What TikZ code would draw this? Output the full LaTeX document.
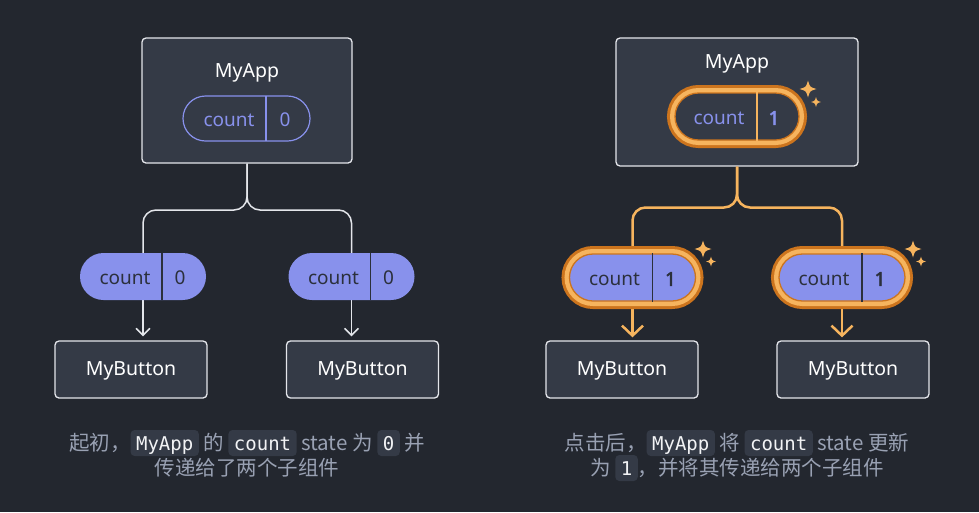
\documentclass[tikz,border=0pt]{standalone}
\usepackage{fontspec}
\setmainfont{Noto Sans}
\newfontfamily\cjk{Noto Sans CJK SC}
\newfontfamily\codefont{DejaVu Sans Mono}
\newfontfamily\numfont[FakeBold=2.5]{Noto Sans}
\usetikzlibrary{arrows.meta}

\definecolor{bgdark}{HTML}{23272F}
\definecolor{boxfill}{HTML}{343A46}
\definecolor{boxline}{HTML}{E4E6EB}
\definecolor{lavender}{HTML}{8891EC}
\definecolor{pilltext}{HTML}{2B303C}
\definecolor{ringlight}{HTML}{F6B45E}
\definecolor{ringdark}{HTML}{CC741D}
\definecolor{capgray}{HTML}{99A1B3}
\definecolor{codebg}{HTML}{343A46}
\definecolor{codetext}{HTML}{F2F3F5}

\tikzset{
  codebox/.style={fill=codebg, rounded corners=4pt, text=codetext, inner xsep=5.5pt, inner ysep=3pt,
    text height=17pt, text depth=3pt, font=\codefont\fontsize{19}{20}\selectfont},
  sparkle/.pic={\fill[ringlight] (0,-1) .. controls (0.22,-0.22) .. (1,0) .. controls (0.22,0.22) .. (0,1)
    .. controls (-0.22,0.22) .. (-1,0) .. controls (-0.22,-0.22) .. (0,-1);}
}
\newcommand{\codebit}[1]{\tikz[baseline=(cb.base)]\node[codebox](cb){#1};}

\begin{document}
\begin{tikzpicture}[x=1pt, y=-1pt,
  comp/.style={draw=boxline, fill=boxfill, line width=1.3pt, rounded corners=4pt, inner sep=0pt},
  title/.style={text=white, font=\fontsize{19.5}{22}\selectfont},
  pill/.style={rectangle, rounded corners=23.5pt, minimum width=126pt, minimum height=47pt, inner sep=0pt},
  cnt/.style={font=\fontsize{19}{22}\selectfont},
  num/.style={font=\numfont\fontsize{19}{22}\selectfont},
  wire/.style={draw=boxline, line width=1.5pt, rounded corners=13pt},
  hotwire/.style={draw=ringlight, line width=2.5pt, rounded corners=13pt},
  ring/.style={draw=ringdark, line width=1.3pt, preaction={draw=ringdark, line width=16pt},
    preaction={draw=ringlight, line width=10pt}},
  caption/.style={text=capgray, font=\cjk\fontsize{20.5}{24}\selectfont, inner sep=0pt}]

\path[use as bounding box, fill=bgdark] (0,0) rectangle (979,512);

% before the click
\node[comp, minimum width=210pt, minimum height=125pt] (appL) at (247,100.5) {};
\node[title] (appLt) at (247,72.5) {MyApp};
\coordinate (forkL) at (247,210);
\coordinate (forkR) at (737,207.5);

\node[comp, minimum width=152pt, minimum height=57pt] (btnLa) at (131,369.5) {};
\node[title] (btnLat) at ([yshift=-1.5pt]btnLa.center) {MyButton};
\node[comp, minimum width=152pt, minimum height=57pt] (btnLb) at (362.5,369.5) {};
\node[title] (btnLbt) at ([yshift=-1.5pt]btnLb.center) {MyButton};

\node[pill, minimum width=127pt, minimum height=45pt, rounded corners=22.5pt] (cntL) at (246.5,118.5) {};
\node[pill] (cntLa) at (143,276.5) {};
\node[pill] (cntLb) at (351.5,276.5) {};

\draw[wire] (appL.south) -- (forkL) -| (cntLa.north);
\draw[wire] (appL.south) -- (forkL) -| (cntLb.north);
\draw[wire, -{Straight Barb[length=7pt, width=14pt]}, shorten >=4pt] (cntLa.south) -- (cntLa.south |- btnLa.north);
\draw[wire, -{Straight Barb[length=7pt, width=14pt]}, shorten >=4pt] (cntLb.south) -- (cntLb.south |- btnLb.north);

\node[pill, draw=lavender, line width=1.2pt, minimum width=127pt, minimum height=45pt, rounded corners=22.5pt] at (cntL) {};
\draw[lavender, line width=1.2pt] ([xshift=19.5pt]cntL.north) -- ([xshift=19.5pt]cntL.south);
\node[cnt, text=lavender] (cntLt) at ([xshift=-17.5pt, yshift=-1.5pt]cntL.center) {count};
\node[cnt, text=lavender] (cntLv) at ([xshift=38.5pt, yshift=-1.5pt]cntL.center) {0};

\node[pill, fill=lavender] at (cntLa) {};
\draw[pilltext, line width=1.2pt] ([xshift=19pt]cntLa.north) -- ([xshift=19pt]cntLa.south);
\node[cnt, text=pilltext] (cntLat) at ([xshift=-18pt, yshift=-1.5pt]cntLa.center) {count};
\node[cnt, text=pilltext] (cntLav) at ([xshift=37pt, yshift=-1.5pt]cntLa.center) {0};

\node[pill, fill=lavender] at (cntLb) {};
\draw[pilltext, line width=1.2pt] ([xshift=19pt]cntLb.north) -- ([xshift=19pt]cntLb.south);
\node[cnt, text=pilltext] (cntLbt) at ([xshift=-18pt, yshift=-1.5pt]cntLb.center) {count};
\node[cnt, text=pilltext] (cntLbv) at ([xshift=37pt, yshift=-1.5pt]cntLb.center) {0};

\node[caption] (capLa) at (247,443) {起初，\codebit{MyApp} 的 \codebit{count} state 为 \codebit{0} 并};
\node[caption] (capLb) at (247,468) {传递给了两个子组件};

% after the click
\node[comp, minimum width=242pt, minimum height=128pt] (appR) at (737,102) {};
\node[title] (appRt) at (737,63.5) {MyApp};

\node[comp, minimum width=152pt, minimum height=57pt] (btnRa) at (622,369.5) {};
\node[title] (btnRat) at ([yshift=-1.5pt]btnRa.center) {MyButton};
\node[comp, minimum width=152pt, minimum height=57pt] (btnRb) at (853,369.5) {};
\node[title] (btnRbt) at ([yshift=-1.5pt]btnRb.center) {MyButton};

\coordinate (cntRa) at (632.5,277.5);
\coordinate (cntRb) at (842,277.5);
\draw[hotwire] (appR.south) -- (forkR) -| (cntRa);
\draw[hotwire] (appR.south) -- (forkR) -| (cntRb);
\draw[hotwire, -{Straight Barb[length=10pt, width=21pt]}, shorten >=3pt] (cntRa) -- (cntRa |- btnRa.north);
\draw[hotwire, -{Straight Barb[length=10pt, width=21pt]}, shorten >=3pt] (cntRb) -- (cntRb |- btnRb.north);

\node[pill, ring, fill=boxfill, minimum width=124pt] (cntR) at (737,116.5) {};
\draw[ringlight, line width=1.5pt] ([xshift=20pt]cntR.north) -- ([xshift=20pt]cntR.south);
\node[cnt, text=lavender] (cntRt) at ([xshift=-18pt, yshift=-1.5pt]cntR.center) {count};
\node[num, text=lavender] (cntRv) at ([xshift=37pt, yshift=-1.5pt]cntR.center) {1};

\node[pill, ring, fill=lavender] (cntRap) at (cntRa) {};
\draw[pilltext, line width=1.2pt] ([xshift=20pt]cntRap.north) -- ([xshift=20pt]cntRap.south);
\node[cnt, text=pilltext] (cntRat) at ([xshift=-18pt, yshift=-1.5pt]cntRap.center) {count};
\node[num, text=pilltext] (cntRav) at ([xshift=38pt, yshift=-1.5pt]cntRap.center) {1};

\node[pill, ring, fill=lavender] (cntRbp) at (cntRb) {};
\draw[pilltext, line width=1.2pt] ([xshift=20pt]cntRbp.north) -- ([xshift=20pt]cntRbp.south);
\node[cnt, text=pilltext] (cntRbt) at ([xshift=-18pt, yshift=-1.5pt]cntRbp.center) {count};
\node[num, text=pilltext] (cntRbv) at ([xshift=38pt, yshift=-1.5pt]cntRbp.center) {1};

\pic[scale=8.5] at (808,89) {sparkle};
\pic[scale=5] at (816,102) {sparkle};
\pic[scale=8.5] at (703,249) {sparkle};
\pic[scale=5] at (711,261.5) {sparkle};
\pic[scale=8.5] at (913,249) {sparkle};
\pic[scale=5] at (921,261.5) {sparkle};

\node[caption] (capRa) at (737,443) {点击后，\codebit{MyApp} 将 \codebit{count} state 更新};
\node[caption] (capRb) at (737,468) {为 \codebit{1}，并将其传递给两个子组件};

\end{tikzpicture}
\end{document}
